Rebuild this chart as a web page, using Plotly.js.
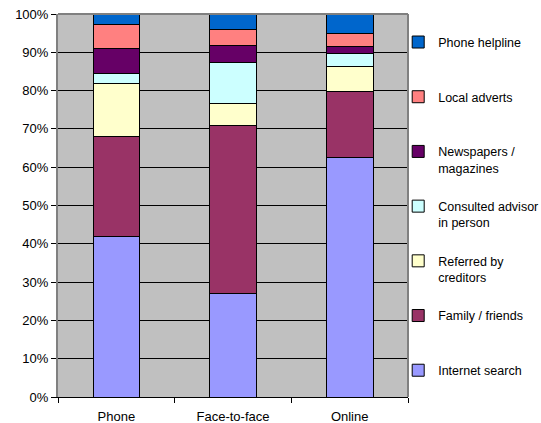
<!DOCTYPE html>
<html>
<head>
<meta charset="utf-8">
<script src="https://cdn.plot.ly/plotly-3.0.1.min.js"></script>
<style>html,body{margin:0;padding:0;background:#fff;}#chart{width:541px;height:423px;}</style>
</head>
<body>
<div id="chart"></div>
<script>
var categories = ['Phone', 'Face-to-face', 'Online'];
var seriesNames = ['Internet search', 'Family / friends', 'Referred by<br>creditors', 'Consulted advisor<br>in person', 'Newspapers /<br>magazines', 'Local adverts', 'Phone helpline'];
var internetSearch = [41.8, 26.9, 62.6];
var familyFriends = [26.1, 43.9, 17.1];
var referredByCreditors = [13.9, 5.8, 6.7];
var consultedAdvisor = [2.7, 10.7, 3.4];
var newspapersMagazines = [6.5, 4.6, 1.6];
var localAdverts = [6.3, 4.0, 3.4];
var phoneHelpline = [2.7, 4.1, 5.2];
var yTickVals = [0, 10, 20, 30, 40, 50, 60, 70, 80, 90, 100];
var yTickText = ['0%', '10%', '20%', '30%', '40%', '50%', '60%', '70%', '80%', '90%', '100%'];

var seriesValues = [internetSearch, familyFriends, referredByCreditors, consultedAdvisor, newspapersMagazines, localAdverts, phoneHelpline];
var colors = ['#9999FF', '#993366', '#FFFFCC', '#CCFFFF', '#660066', '#FF8080', '#0066CC'];

var traces = seriesValues.map(function (vals, i) {
  var nm = seriesNames[i];
  if (nm.indexOf('<br>') < 0) nm = nm + '<br> ';
  return {
    type: 'bar',
    x: categories,
    y: vals,
    name: nm,
    legendgroup: 'g' + i,
    legendrank: 1000 - i,
    marker: {color: colors[i], line: {color: '#000000', width: 1}},
    hoverinfo: 'none'
  };
});

var layout = {
  width: 541,
  height: 423,
  margin: {l: 58, r: 133, t: 14, b: 26, pad: 0, autoexpand: false},
  paper_bgcolor: '#ffffff',
  plot_bgcolor: '#C0C0C0',
  barmode: 'stack',
  bargap: 0.6,
  font: {family: 'Liberation Sans, Arial, sans-serif', size: 13, color: '#000000'},
  showlegend: true,
  legend: {
    x: 0.972, xanchor: 'left', y: 0.965, yanchor: 'top',
    traceorder: 'grouped',
    tracegroupgap: 19.2,
    valign: 'top',
    itemwidth: 30,
    font: {family: 'Liberation Sans, Arial, sans-serif', size: 12.5, color: '#000000'},
    bgcolor: 'rgba(0,0,0,0)',
    borderwidth: 0
  },
  xaxis: {
    type: 'category',
    showgrid: false,
    showline: true,
    linecolor: '#000000',
    linewidth: 1,
    ticks: 'outside',
    tickson: 'boundaries',
    ticklen: 5,
    tickcolor: '#000000',
    tickfont: {size: 13},
    ticklabelstandoff: 7,
    zeroline: false,
    fixedrange: true
  },
  yaxis: {
    range: [0, 100],
    tickvals: yTickVals,
    ticktext: yTickText,
    showgrid: true,
    gridcolor: '#000000',
    gridwidth: 1,
    showline: true,
    linecolor: '#808080',
    linewidth: 2,
    ticks: 'outside',
    ticklen: 5,
    tickcolor: '#000000',
    tickfont: {size: 13},
    zeroline: false,
    fixedrange: true
  },
  shapes: [
    {type: 'line', xref: 'paper', yref: 'paper', x0: 0, x1: 1, y0: 1, y1: 1, line: {color: '#808080', width: 2}},
    {type: 'line', xref: 'paper', yref: 'paper', x0: 1, x1: 1, y0: 0, y1: 1, line: {color: '#808080', width: 2}}
  ]
};

Plotly.newPlot('chart', traces, layout, {staticPlot: true, displayModeBar: false});
</script>
</body>
</html>
